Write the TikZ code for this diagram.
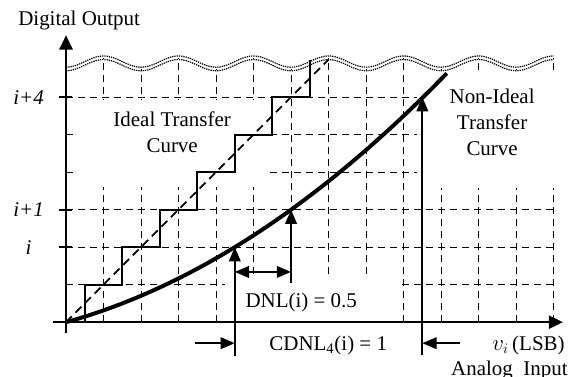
\documentclass[tikz,border=0pt]{standalone}
\usepackage{fontspec}
\setmainfont{Liberation Serif}
\usepackage{tikz}
\usetikzlibrary{arrows.meta}

\begin{document}
\begin{tikzpicture}[
    x=1cm, y=1cm,
    txt/.style={font=\fontsize{15.9}{19.5}\selectfont, align=center, inner sep=0pt},
    gridline/.style={line width=0.6pt, dash pattern=on 1.8mm off 1.4mm},
    wave/.style={line width=0.9pt, dash pattern=on 1pt off 0.7pt},
    axis/.style={line width=1.7pt, -{Triangle[length=3.8mm, width=3.5mm]}},
    marker/.style={line width=1.4pt, -{Triangle[length=3.8mm, width=3.1mm]}},
  ]
  \useasboundingbox (-1.76,-1.44) rectangle (13.49,8.59);

  % grid
  \foreach \v in {1,...,6}
    \draw[gridline] (0,\v) -- (13,\v);
  \foreach \u in {1,...,13}{
    \pgfmathsetmacro\gridtop{6.9-0.15*cos(180*\u)}
    \draw[gridline] (\u,0) -- (\u,\gridtop);
  }
  % white patches behind the labels
  \fill[white] (0.32,3.6) rectangle (5.37,5.93);
  \fill[white] (9.36,3.57) rectangle (13.3,6.68);
  \fill[white] (4.24,0.04) rectangle (8.97,1.15);

  % broken top
  \foreach \dy in {-0.048,0.048}
    \draw[wave] plot[domain=0:13, samples=131, smooth] (\x, {6.9+\dy-0.15*cos(180*\x)});

  % ideal and non-ideal curves
  \draw[line width=1.3pt, dash pattern=on 2.2mm off 1.4mm] (0,0) -- (7,7);
  \draw[line width=1.4pt] (0.5,0) \foreach \k in {1,...,6}{ -- (\k-0.5,\k) -- (\k+0.5,\k)} -- (6.5,7);
  \draw[line width=3pt] plot[domain=0:10.15, samples=60, smooth] (\x, {0.278*\x+0.037*\x*\x});

  % axes
  \coordinate (ybot) at (0,-0.3);
  \coordinate (ytop) at (0,7.65);
  \coordinate (xl) at (-0.35,0);
  \coordinate (xr) at (13.25,0);
  \draw[axis] (ybot) -- (ytop);
  \draw[axis] (xl) -- (xr);
  \foreach \v in {2,3,6}
    \draw[line width=1.5pt] (-0.19,\v) -- (0.16,\v);

  % markers
  \coordinate (t1) at (4.5,2);   \coordinate (b1) at (4.5,-0.9);
  \coordinate (t2) at (6,3);     \coordinate (b2) at (6,1.04);
  \coordinate (t3) at (9.5,6);   \coordinate (b3) at (9.5,-0.88);
  \coordinate (dl) at (4.5,1.34); \coordinate (dr) at (6,1.34);
  \coordinate (cl) at (3.44,-0.56); \coordinate (cr) at (10.5,-0.56);
  \draw[marker] (b1) -- (t1);
  \draw[marker] (b2) -- (t2);
  \draw[marker] (b3) -- (t3);
  \draw[marker, {Triangle[length=3.8mm, width=3.1mm]}-{Triangle[length=3.8mm, width=3.1mm]}] (dl) -- (dr);
  \draw[marker] (cl) -- (cl -| b1);
  \draw[marker] (cr) -- (cr -| b3);

  % labels
  \node[txt] (yname) at (0.35,8.05) {Digital Output};
  \node[txt] (lv4) at (-1.0,6) {\textit{i+4}};
  \node[txt] (lv1) at (-1.0,3) {\textit{i+1}};
  \node[txt] (lv0) at (-1.0,2) {\textit{i}};
  \node[txt] (ideal) at (2.83,5.07) {Ideal Transfer\\Curve};
  \node[txt] (nonideal) at (11.36,5.33) {Non-Ideal\\Transfer\\Curve};
  \node[txt] (dnl) at (6.27,0.53) {DNL(i) = 0.5};
  \node[txt] (cdnl) at (6.99,-0.61) {CDNL\textsubscript{4}(i) = 1};
  \node[txt, anchor=east] (xname) at (13.3,-0.61) {$v_i$\,(LSB)};
  \node[txt, anchor=base east] (xunit) at (13.38,-1.42) {Analog\ \ Input};
\end{tikzpicture}
\end{document}
